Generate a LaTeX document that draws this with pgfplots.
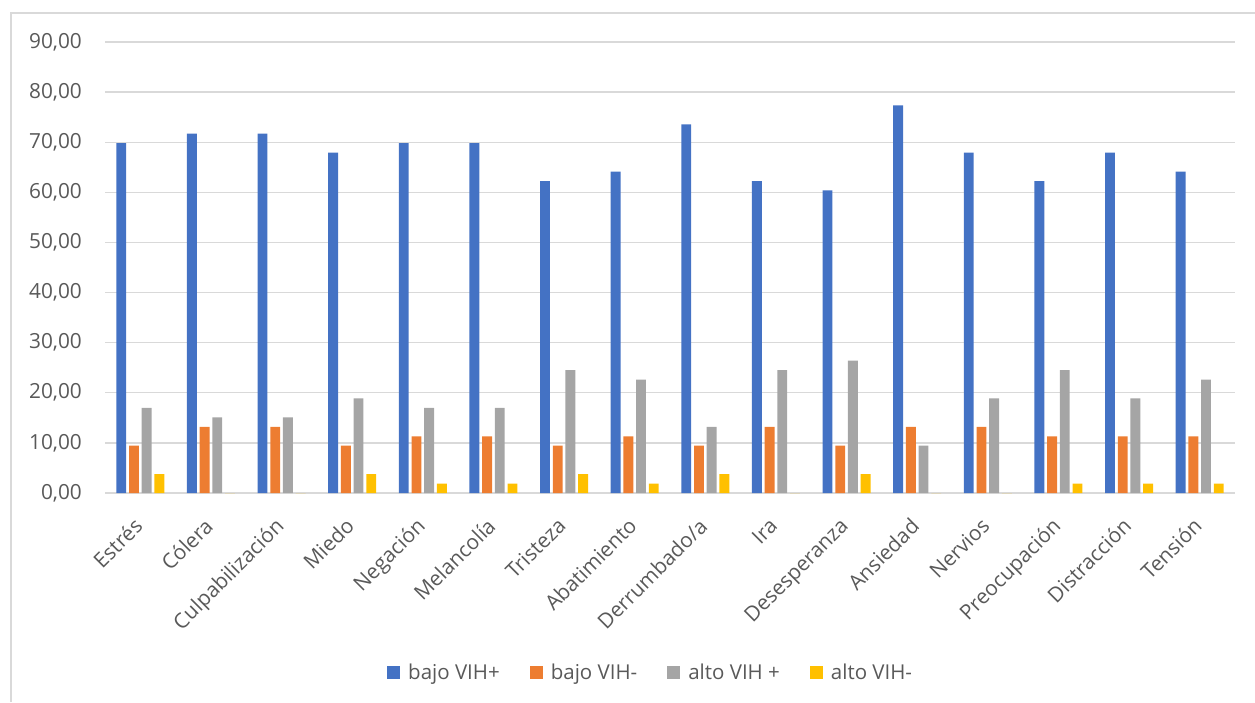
\documentclass[border=0pt]{standalone}
\usepackage{pgfplots}
\pgfplotsset{compat=1.18}
\usepackage{fontspec}
\setmainfont{Open Sans}
\definecolor{cBlue}{HTML}{4472C4}
\definecolor{cOrange}{HTML}{ED7D31}
\definecolor{cGray}{HTML}{A5A5A5}
\definecolor{cYellow}{HTML}{FFC000}
\definecolor{cGrid}{HTML}{D9D9D9}
\definecolor{cText}{HTML}{595959}
\begin{document}
\begin{tikzpicture}
\begin{axis}[
  at={(105pt,209pt)}, anchor=south west,
  scale only axis, width=1130pt, height=451pt,
  xmin=-0.5, xmax=15.5, ymin=0, ymax=90,
  ytick={0,10,...,90},
  xtick={0,...,15},
  xticklabels={Estrés,Cólera,Culpabilización,Miedo,Negación,Melancolía,Tristeza,Abatimiento,Derrumbado/a,Ira,Desesperanza,Ansiedad,Nervios,Preocupación,Distracción,Tensión},
  ymajorgrids, xmajorgrids=false,
  grid style={cGrid, line width=1.3pt},
  axis line style={draw=none},
  tick style={draw=none},
  ticklabel style={font=\fontsize{20.8}{25}\selectfont, text=cText},
  yticklabel style={anchor=east, inner sep=0pt, xshift=-23pt},
  xticklabel style={rotate=45, anchor=north east, inner sep=0pt, xshift=-19pt, yshift=-8pt},
  /pgf/number format/.cd, fixed, fixed zerofill, precision=2, use comma, assume math mode=true,
  /pgfplots/.cd,
  ybar, bar width=0.14,
  legend columns=4,
  legend style={at={(0.482,-0.397)}, anchor=center, draw=none, fill=none,
    font=\fontsize{20.5}{25}\selectfont, text=cText, inner sep=0pt,
    nodes={inner sep=0pt},
    /tikz/every odd column/.append style={column sep=8pt},
    /tikz/every even column/.append style={column sep=30pt}},
  legend image code/.code={\fill[#1] (0pt,-6.5pt) rectangle (13pt,6.5pt);},
]
\addplot[fill=cBlue, draw=none, bar shift=-0.27] coordinates {(0,69.81) (1,71.70) (2,71.70) (3,67.92) (4,69.81) (5,69.81) (6,62.26) (7,64.15) (8,73.58) (9,62.26) (10,60.38) (11,77.36) (12,67.92) (13,62.26) (14,67.92) (15,64.15)};
\addplot[fill=cOrange, draw=none, bar shift=-0.09] coordinates {(0,9.43) (1,13.21) (2,13.21) (3,9.43) (4,11.32) (5,11.32) (6,9.43) (7,11.32) (8,9.43) (9,13.21) (10,9.43) (11,13.21) (12,13.21) (13,11.32) (14,11.32) (15,11.32)};
\addplot[fill=cGray, draw=none, bar shift=0.09] coordinates {(0,16.98) (1,15.09) (2,15.09) (3,18.87) (4,16.98) (5,16.98) (6,24.53) (7,22.64) (8,13.21) (9,24.53) (10,26.42) (11,9.43) (12,18.87) (13,24.53) (14,18.87) (15,22.64)};
\addplot[fill=cYellow, draw=none, bar shift=0.27] coordinates {(0,3.77) (1,0) (2,0) (3,3.77) (4,1.89) (5,1.89) (6,3.77) (7,1.89) (8,3.77) (9,0) (10,3.77) (11,0) (12,0) (13,1.89) (14,1.89) (15,1.89)};
\legend{bajo VIH+, bajo VIH-, alto VIH +, alto VIH-}
\end{axis}
\pgfresetboundingbox
\path[use as bounding box] (0,0) rectangle (1255pt,702pt);
\draw[cGrid, line width=1.3pt] (11pt,0) -- (11pt,689pt) -- (1255pt,689pt);
\end{tikzpicture}
\end{document}
